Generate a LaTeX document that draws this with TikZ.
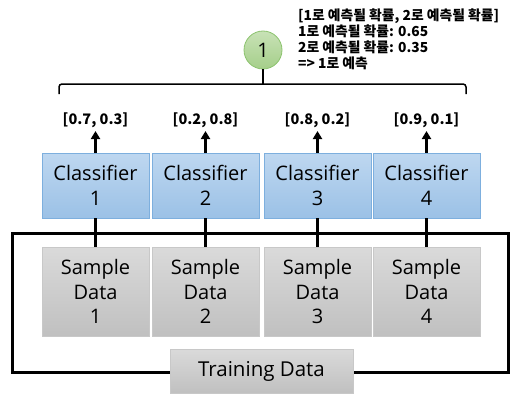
\documentclass[tikz,border=0pt]{standalone}
\usepackage{fontspec}
\setmainfont{Open Sans}
\newfontfamily\kr{Noto Sans CJK KR}
\usetikzlibrary{arrows.meta}
\definecolor{bluetop}{RGB}{190,215,240}
\definecolor{bluebot}{RGB}{155,193,230}
\definecolor{blueline}{RGB}{125,175,222}
\definecolor{graytop}{RGB}{218,218,218}
\definecolor{graybot}{RGB}{192,192,192}
\definecolor{grayline}{RGB}{200,200,200}
\definecolor{greentop}{RGB}{200,226,182}
\definecolor{greenbot}{RGB}{165,207,138}
\definecolor{greenline}{RGB}{140,195,110}
\tikzset{
  clsbox/.style={draw=blueline, line width=0.8pt, top color=bluetop, bottom color=bluebot,
    minimum width=107pt, minimum height=65pt, align=center, inner sep=0pt,
    font=\fontsize{20}{25}\selectfont},
  samplebox/.style={draw=grayline, line width=0.8pt, top color=graytop, bottom color=graybot,
    minimum width=107pt, minimum height=89pt, align=center, inner sep=0pt,
    font=\fontsize{20}{24.5}\selectfont},
  trainbox/.style={draw=grayline, line width=0.8pt, top color=graytop, bottom color=graybot,
    minimum width=183pt, minimum height=44pt, inner sep=0pt,
    font=\fontsize{20.5}{24}\selectfont},
  problabel/.style={anchor=south, inner sep=0pt, font=\kr\bfseries\fontsize{14.5}{16}\selectfont},
  thickline/.style={line width=3pt},
  uparrow/.style={line width=3pt, -{Triangle[width=9pt,length=8pt]}, shorten >=3pt},
  thinline/.style={line width=1.5pt, rounded corners=3pt},
  votecircle/.style={circle, draw=greenline, line width=0.8pt, top color=greentop, bottom color=greenbot,
    minimum size=38pt, inner sep=0pt, font=\fontsize{20}{24}\selectfont},
}
\begin{document}
\begin{tikzpicture}[x=1pt,y=-1pt]
\useasboundingbox (0,0) rectangle (522,404);
% training frame
\draw[thickline] (12,233) rectangle (508,372);
\node[trainbox] (train) at (261.5,371) {Training Data};
% samples and classifiers
\foreach \i/\x in {1/95.5,2/205.5,3/317.5,4/426.5}{
  \node[samplebox] (s\i) at (\x,291.5) {Sample\\Data\\\i};
  \node[clsbox] (c\i) at (\x,185.5) {Classifier\\\i};
  \draw[thickline] (c\i.south) -- (s\i.north);
}
\node[problabel] (p1) at (95.5,128) {[0.7, 0.3]};
\node[problabel] (p2) at (205.5,128) {[0.2, 0.8]};
\node[problabel] (p3) at (317.5,128) {[0.8, 0.2]};
\node[problabel] (p4) at (426.5,128) {[0.9, 0.1]};
\foreach \i in {1,2,3,4}{
  \draw[uparrow] (c\i.north) -- (p\i.south);
}
% bracket and vote
\coordinate (bl) at (59,94);
\coordinate (br) at (466,94);
\coordinate (bm) at (263,84);
\draw[thinline] (bl) -- (59,84) -- (466,84) -- (br);
\node[votecircle] (vote) at (263,50) {1};
\draw[line width=1.5pt] (vote.south) -- (bm);
\node[anchor=north west, align=left, inner sep=0pt, font=\kr\bfseries\fontsize{13.8}{16}\selectfont] (note) at (298,9)
  {[1로 예측될 확률, 2로 예측될 확률]\\1로 예측될 확률: 0.65\\2로 예측될 확률: 0.35\\=> 1로 예측};
\end{tikzpicture}
\end{document}
